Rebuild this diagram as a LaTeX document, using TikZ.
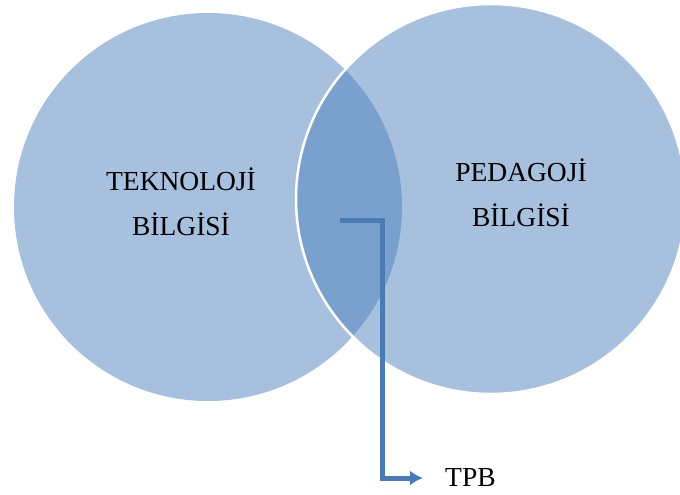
\documentclass[tikz,border=0pt]{standalone}
\usepackage{fontspec}
\setmainfont{Liberation Serif}
\usepackage{tikz}
\usetikzlibrary{arrows.meta}
\usepackage{xcolor}
\definecolor{vennblue}{RGB}{79,129,189}

\begin{document}
\begin{tikzpicture}[x=1pt, y=-1pt,
  venn/.style={circle, fill=vennblue, fill opacity=0.5, inner sep=0pt},
  lbl/.style={align=center, font=\fontsize{27.5}{45}\selectfont, text=black}]
\useasboundingbox (0,0) rectangle (680,495);
\node[venn, minimum size=388pt] (tb) at (208,207) {};
\node[venn, minimum size=390pt, draw=white, line width=2.5pt] (pb) at (491,199) {};
\node[lbl] (tbtext) at (181,202) {TEKNOLOJİ\\BİLGİSİ};
\node[lbl] (pbtext) at (521,193) {PEDAGOJİ\\BİLGİSİ};
\coordinate (tpbstart) at (340,220);
\node[lbl, anchor=west, inner sep=0pt] (tpb) at (445,478) {TPB};
% shadow under the connector
\draw[line width=5pt, black, opacity=0.15, shift={(1.5,1.5)}] (tpbstart) -- ++(42,0) |- ([xshift=-30pt]tpb.west);
\draw[line width=5pt, vennblue!95!black, -{Latex[length=13pt,width=15pt]}, shorten >=22pt] (tpbstart) -- ++(42,0) |- (tpb.west);
\end{tikzpicture}
\end{document}
